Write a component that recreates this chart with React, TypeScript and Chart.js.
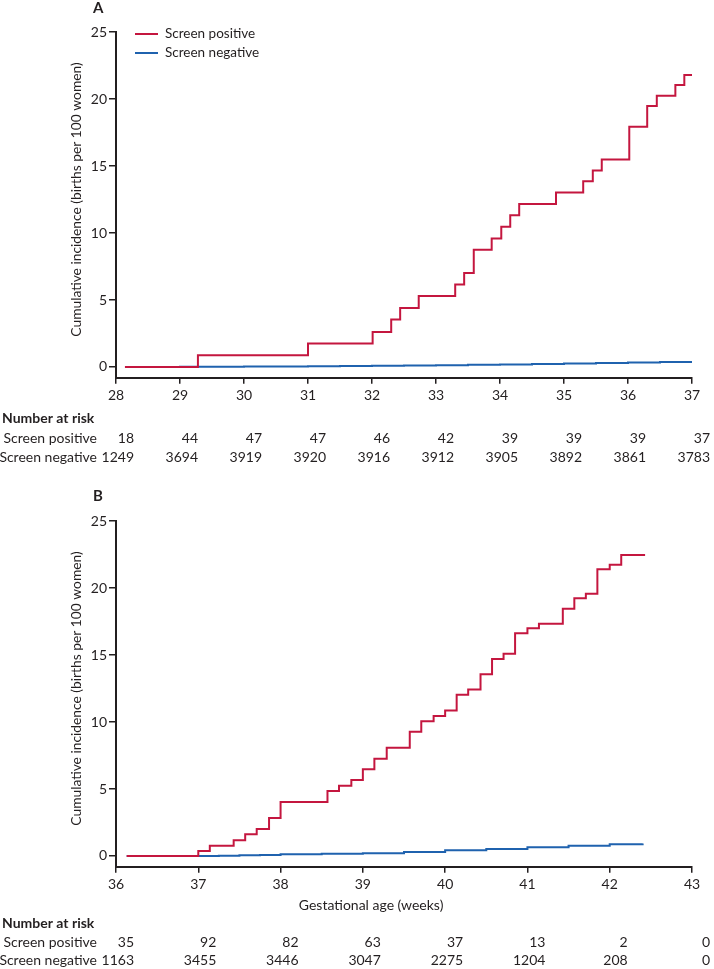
import React, { useEffect, useRef } from "react";
import { Chart, registerables } from "chart.js";

Chart.register(...registerables);

const FONT = "Lato, 'Open Sans', sans-serif";
const TEXT = "#231f20";
const RED = "#c4163f";
const BLUE = "#1f62ae";

const Y_TITLE = "Cumulative incidence (births per 100 women)";
const X_TITLE_B = "Gestational age (weeks)";
const SERIES_NAMES = ["Screen positive", "Screen negative"];
const Y_TICKS = [0, 5, 10, 15, 20, 25];

// ---- Panel A (28-37 weeks) ----
const aTicks = [28, 29, 30, 31, 32, 33, 34, 35, 36, 37];
const aPosX = [28.14, 29.28, 31.0, 32.01, 32.3, 32.44, 32.73, 33.3, 33.44, 33.59, 33.87, 34.02, 34.16, 34.3, 34.875, 35.3, 35.45, 35.59, 36.02, 36.3, 36.45, 36.74, 36.88, 37.0];
const aPosY = [0, 0.87, 1.75, 2.61, 3.54, 4.41, 5.3, 6.15, 7.02, 8.74, 9.59, 10.46, 11.33, 12.17, 13.02, 13.87, 14.67, 15.49, 17.92, 19.47, 20.24, 21.04, 21.79, 21.79];
const aNegX = [28.14, 29.0, 29.5, 30.0, 30.5, 31.0, 31.5, 32.0, 32.5, 33.0, 33.5, 34.0, 34.5, 35.0, 35.5, 36.0, 36.5, 37.0];
const aNegY = [0, 0.01, 0.02, 0.03, 0.04, 0.05, 0.07, 0.09, 0.11, 0.13, 0.16, 0.19, 0.22, 0.26, 0.29, 0.33, 0.37, 0.42];
const aRiskPos = [18, 44, 47, 47, 46, 42, 39, 39, 39, 37];
const aRiskNeg = [1249, 3694, 3919, 3920, 3916, 3912, 3905, 3892, 3861, 3783];

// ---- Panel B (36-43 weeks) ----
const bTicks = [36, 37, 38, 39, 40, 41, 42, 43];
const bPosX = [36.13, 37.0, 37.14, 37.43, 37.57, 37.71, 37.86, 38.0, 38.57, 38.71, 38.86, 39.0, 39.14, 39.29, 39.57, 39.71, 39.86, 40.0, 40.14, 40.28, 40.43, 40.57, 40.71, 40.85, 41.0, 41.14, 41.43, 41.57, 41.71, 41.85, 42.0, 42.14, 42.43];
const bPosY = [0, 0.37, 0.77, 1.17, 1.62, 2.01, 2.84, 4.03, 4.85, 5.25, 5.67, 6.47, 7.26, 8.08, 9.28, 10.05, 10.45, 10.85, 12.04, 12.43, 13.56, 14.7, 15.1, 16.62, 17.0, 17.34, 18.46, 19.23, 19.57, 21.4, 21.74, 22.46, 22.46];
const bNegX = [36.13, 37.0, 37.25, 37.5, 37.75, 38.0, 38.5, 39.0, 39.5, 40.0, 40.5, 41.0, 41.5, 42.0, 42.4];
const bNegY = [0, 0, 0.02, 0.05, 0.08, 0.12, 0.16, 0.21, 0.3, 0.42, 0.53, 0.65, 0.76, 0.88, 0.93];
const bRiskPos = [35, 92, 82, 63, 37, 13, 2, 0];
const bRiskNeg = [1163, 3455, 3446, 3047, 2275, 1204, 208, 0];

type PanelCfg = {
  width: number;
  height: number;
  padTop: number;
  axisH: number;
  xMin: number;
  xMax: number;
  ticks: number[];
  posX: number[];
  posY: number[];
  negX: number[];
  negY: number[];
  riskPos: number[];
  riskNeg: number[];
  letter: string;
  letterY: number;
  legend: boolean;
  xTitle: string | null;
  rows: { xTitle?: number; nar: number; sp: number; sn: number };
};

function decorPlugin(cfg: PanelCfg) {
  return {
    id: "decor",
    afterDraw(chart: any) {
      const { ctx, chartArea, scales } = chart;
      const xs = scales.x;
      const ys = scales.y;
      ctx.save();
      ctx.fillStyle = TEXT;
      // panel letter
      ctx.font = `bold 15px ${FONT}`;
      ctx.textAlign = "left";
      ctx.textBaseline = "middle";
      ctx.fillText(cfg.letter, 93, cfg.letterY);
      // y title
      ctx.save();
      ctx.translate(77, ys.getPixelForValue(12.5));
      ctx.rotate(-Math.PI / 2);
      ctx.font = `13.8px ${FONT}`;
      ctx.textAlign = "center";
      ctx.textBaseline = "middle";
      ctx.fillText(Y_TITLE, 0, 0);
      ctx.restore();
      // legend
      if (cfg.legend) {
        const lx = chartArea.left + 19;
        const rowsY = [34, 53];
        const cols = [RED, BLUE];
        ctx.font = `13.5px ${FONT}`;
        ctx.textAlign = "left";
        ctx.textBaseline = "middle";
        rowsY.forEach((yy, i) => {
          ctx.strokeStyle = cols[i];
          ctx.lineWidth = 2;
          ctx.beginPath();
          ctx.moveTo(lx, yy);
          ctx.lineTo(lx + 23, yy);
          ctx.stroke();
          ctx.fillStyle = TEXT;
          ctx.fillText(SERIES_NAMES[i], lx + 30, yy);
        });
      }
      const base = chartArea.bottom;
      // x title
      if (cfg.xTitle && cfg.rows.xTitle !== undefined) {
        ctx.font = `14px ${FONT}`;
        ctx.textAlign = "center";
        ctx.textBaseline = "middle";
        ctx.fillText(cfg.xTitle, xs.getPixelForValue(39.1), base + cfg.rows.xTitle);
      }
      // number at risk table
      ctx.textBaseline = "middle";
      ctx.font = `bold 14px ${FONT}`;
      ctx.textAlign = "left";
      ctx.fillText("Number at risk", 2, base + cfg.rows.nar);
      ctx.font = `14px ${FONT}`;
      ctx.textAlign = "right";
      ctx.fillText(SERIES_NAMES[0], 97, base + cfg.rows.sp);
      ctx.fillText(SERIES_NAMES[1], 97, base + cfg.rows.sn);
      cfg.ticks.forEach((t, i) => {
        const px = xs.getPixelForValue(t) + 18;
        ctx.fillText(String(cfg.riskPos[i]), px, base + cfg.rows.sp);
        ctx.fillText(String(cfg.riskNeg[i]), px, base + cfg.rows.sn);
      });
      ctx.restore();
    },
  };
}

function buildChart(canvas: HTMLCanvasElement, cfg: PanelCfg) {
  const tickFont = { family: FONT, size: 14 };
  return new Chart(canvas, {
    type: "line",
    data: {
      datasets: [
        {
          label: SERIES_NAMES[0],
          data: cfg.posX.map((x, i) => ({ x, y: cfg.posY[i] })),
          borderColor: RED,
          borderWidth: 2,
          pointRadius: 0,
          stepped: true,
          fill: false,
        },
        {
          label: SERIES_NAMES[1],
          data: cfg.negX.map((x, i) => ({ x, y: cfg.negY[i] })),
          borderColor: BLUE,
          borderWidth: 2,
          pointRadius: 0,
          stepped: true,
          fill: false,
        },
      ],
    },
    options: {
      responsive: false,
      animation: false,
      devicePixelRatio: 1,
      layout: { padding: { left: 0, top: cfg.padTop, right: cfg.width - 692, bottom: 0 } },
      plugins: { legend: { display: false }, tooltip: { enabled: false }, title: { display: false } },
      scales: {
        x: {
          type: "linear",
          min: cfg.xMin,
          max: cfg.xMax,
          afterBuildTicks: (s: any) => {
            s.ticks = cfg.ticks.map((v) => ({ value: v }));
          },
          afterFit: (s: any) => {
            s.height = cfg.axisH;
          },
          grid: { drawOnChartArea: false, drawTicks: true, tickLength: 6, color: TEXT, lineWidth: 1.5 },
          border: { display: true, color: TEXT, width: 2 },
          ticks: { color: TEXT, font: tickFont, padding: 3, maxRotation: 0, autoSkip: false },
        },
        y: {
          type: "linear",
          min: -0.8,
          max: 25,
          afterBuildTicks: (s: any) => {
            s.ticks = Y_TICKS.map((v) => ({ value: v }));
          },
          afterFit: (s: any) => {
            s.width = 116;
          },
          grid: { drawOnChartArea: false, drawTicks: true, tickLength: 7, color: TEXT, lineWidth: 1.5 },
          border: { display: true, color: TEXT, width: 2 },
          ticks: { color: TEXT, font: tickFont, padding: 2 },
        },
      },
    } as any,
    plugins: [decorPlugin(cfg)],
  });
}

const panelA: PanelCfg = {
  width: 714,
  height: 475,
  padTop: 32,
  axisH: 97.3,
  xMin: 28,
  xMax: 37,
  ticks: aTicks,
  posX: aPosX,
  posY: aPosY,
  negX: aNegX,
  negY: aNegY,
  riskPos: aRiskPos,
  riskNeg: aRiskNeg,
  letter: "A",
  letterY: 8,
  legend: true,
  xTitle: null,
  rows: { nar: 40.3, sp: 60.3, sn: 79.3 },
};

const panelB: PanelCfg = {
  width: 714,
  height: 494,
  padTop: 46,
  axisH: 102.3,
  xMin: 36,
  xMax: 43,
  ticks: bTicks,
  posX: bPosX,
  posY: bPosY,
  negX: bNegX,
  negY: bNegY,
  riskPos: bRiskPos,
  riskNeg: bRiskNeg,
  letter: "B",
  letterY: 21,
  legend: false,
  xTitle: X_TITLE_B,
  rows: { xTitle: 38.3, nar: 56.3, sp: 75.3, sn: 93.3 },
};

export default function App() {
  const refA = useRef<HTMLCanvasElement | null>(null);
  const refB = useRef<HTMLCanvasElement | null>(null);

  useEffect(() => {
    const ca = refA.current ? buildChart(refA.current, panelA) : null;
    const cb = refB.current ? buildChart(refB.current, panelB) : null;
    return () => {
      ca?.destroy();
      cb?.destroy();
    };
  }, []);

  return (
    <div style={{ position: "absolute", left: 0, top: 0, width: 714, height: 969, background: "#fff" }}>
      <canvas
        ref={refA}
        width={panelA.width}
        height={panelA.height}
        style={{ position: "absolute", left: 0, top: 0, width: panelA.width, height: panelA.height }}
      />
      <canvas
        ref={refB}
        width={panelB.width}
        height={panelB.height}
        style={{ position: "absolute", left: 0, top: 475, width: panelB.width, height: panelB.height }}
      />
    </div>
  );
}
